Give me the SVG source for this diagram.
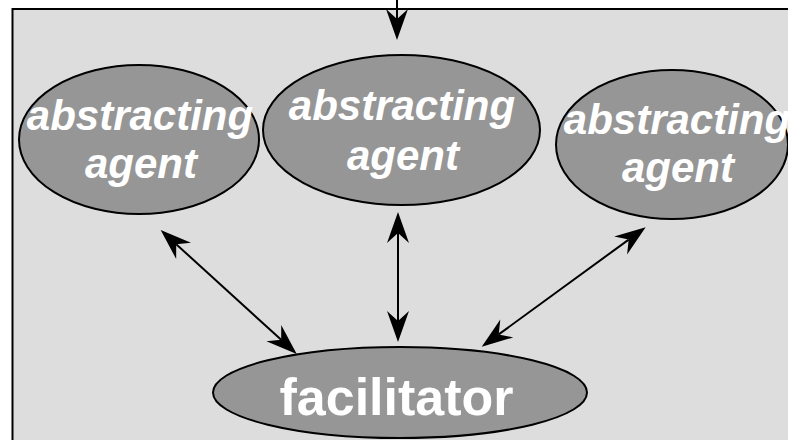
<svg xmlns="http://www.w3.org/2000/svg" width="788" height="440" viewBox="0 0 788 440">
  <style>
    .panel { fill: #dddddd; stroke: #000; stroke-width: 2; }
    .node { fill: #969696; stroke: #000; stroke-width: 2; }
    .agent { fill: #fff; font-family: "Liberation Sans", Arial, sans-serif; font-weight: bold; font-style: italic; font-size: 42px; text-anchor: middle; }
    .fac { fill: #fff; font-family: "Liberation Sans", Arial, sans-serif; font-weight: bold; font-size: 52px; text-anchor: middle; }
    .link { fill: none; stroke: #000; stroke-width: 2; }
  </style>
  <defs>
    <!-- notched arrowhead; the line ends at the notch (x = -21) -->
    <marker id="head" viewBox="-32 -12 33 24" refX="-21" refY="0" markerWidth="33" markerHeight="24" markerUnits="userSpaceOnUse" orient="auto-start-reverse">
      <path d="M0,0 L-31,-11 L-21,0 L-31,11 Z" fill="#000"/>
    </marker>
  </defs>

  <rect class="panel" x="12.5" y="9" width="800" height="450"/>

  <g id="connectors">
    <path class="link" d="M397,0 L397,19" marker-end="url(#head)"/>
    <path class="link" d="M176.2,244.2 L281.2,339.8" marker-start="url(#head)" marker-end="url(#head)"/>
    <path class="link" d="M398,233 L398,321" marker-start="url(#head)" marker-end="url(#head)"/>
    <path class="link" d="M628.7,239.6 L498.7,334.4" marker-start="url(#head)" marker-end="url(#head)"/>
  </g>

  <g id="agent-left">
    <ellipse class="node" cx="139" cy="139.5" rx="120" ry="74.5"/>
    <text class="agent" x="140" y="130">abstracting</text>
    <text class="agent" x="141" y="178">agent</text>
  </g>

  <g id="agent-middle">
    <ellipse class="node" cx="401.5" cy="130" rx="138.5" ry="75"/>
    <text class="agent" x="402" y="120">abstracting</text>
    <text class="agent" x="403" y="170">agent</text>
  </g>

  <g id="agent-right">
    <ellipse class="node" cx="672" cy="144.5" rx="116" ry="74.5"/>
    <text class="agent" x="677" y="134">abstracting</text>
    <text class="agent" x="678" y="182">agent</text>
  </g>

  <g id="facilitator">
    <ellipse class="node" cx="400" cy="392.5" rx="187" ry="45.5"/>
    <text class="fac" x="396.5" y="415">facilitator</text>
  </g>
</svg>
